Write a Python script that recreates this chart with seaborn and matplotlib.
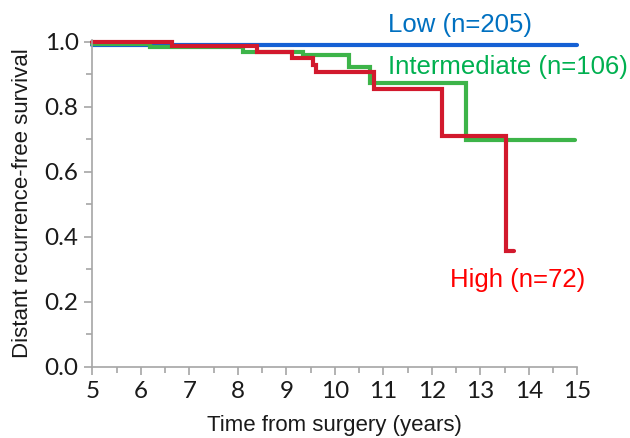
import numpy as np
import pandas as pd
import matplotlib
matplotlib.use("Agg")
import matplotlib.pyplot as plt
from matplotlib.ticker import MultipleLocator
import seaborn as sns

# ---- data ----
low_t = [5.0, 15.0]
low_s = [0.990, 0.990]

mid_t = [5.0, 6.19, 8.11, 9.34, 10.29, 10.72, 12.71, 14.96]
mid_s = [0.992, 0.983, 0.967, 0.959, 0.921, 0.873, 0.699, 0.699]

high_t = [5.0, 6.63, 8.39, 9.11, 9.55, 9.61, 10.80, 12.20, 13.54, 13.70]
high_s = [1.000, 0.987, 0.967, 0.949, 0.928, 0.906, 0.856, 0.710, 0.356, 0.356]

groups = ["Low", "Intermediate", "High"]
labels = ["Low (n=205)", "Intermediate (n=106)", "High (n=72)"]
x_ticks = [5, 6, 7, 8, 9, 10, 11, 12, 13, 14, 15]
y_ticks = [0.0, 0.2, 0.4, 0.6, 0.8, 1.0]

df = pd.concat([
    pd.DataFrame({"t": low_t, "s": low_s, "group": "Low"}),
    pd.DataFrame({"t": mid_t, "s": mid_s, "group": "Intermediate"}),
    pd.DataFrame({"t": high_t, "s": high_s, "group": "High"}),
], ignore_index=True)

sns.set_theme(style="white")
plt.rcParams["font.family"] = ["Liberation Sans", "DejaVu Sans"]

line_colors = {"Low": "#1560d4", "Intermediate": "#3db449", "High": "#d2192d"}
text_colors = {"Low": "#0070C0", "Intermediate": "#00B050", "High": "#FF0000"}

fig = plt.figure(figsize=(6.3, 4.38), dpi=100)
ax = fig.add_axes([0.1468, 0.1628, 0.7695, 0.7457])

sns.lineplot(data=df, x="t", y="s", hue="group", hue_order=groups,
             palette=line_colors, drawstyle="steps-post", linewidth=3.0,
             estimator=None, sort=False, legend=False, ax=ax)
for ln in ax.get_lines():
    ln.set_clip_on(False)
    ln.set_solid_joinstyle("miter")

ax.set_xlim(5, 15)
ax.set_ylim(0, 1.005)
ax.set_xticks(x_ticks)
ax.set_yticks(y_ticks)
ax.set_yticklabels([f"{v:.1f}" for v in y_ticks])
ax.xaxis.set_minor_locator(MultipleLocator(0.5))
ax.yaxis.set_minor_locator(MultipleLocator(0.1))

for side in ["top", "right"]:
    ax.spines[side].set_visible(False)
for side in ["left", "bottom"]:
    ax.spines[side].set_color("#a6a6a6")
    ax.spines[side].set_linewidth(1.2)

ax.tick_params(axis="both", which="major", direction="out", length=6,
               width=1.2, color="#a6a6a6", labelsize=17.5, labelcolor="#1a1a1a",
               left=True, bottom=True, pad=4)
ax.tick_params(axis="both", which="minor", direction="out", length=4,
               width=1.2, color="#a6a6a6", left=True, bottom=True)
for lab in ax.get_xticklabels() + ax.get_yticklabels():
    lab.set_family(["Lato", "DejaVu Sans"])

ax.set_xlabel("Time from surgery (years)", fontsize=16, color="#1a1a1a", labelpad=10)
ax.set_ylabel("Distant recurrence-free survival", fontsize=16, color="#1a1a1a", labelpad=8)

ax.text(11.09, 1.051, labels[0], color=text_colors["Low"], fontsize=18.5,
        va="center", ha="left", clip_on=False)
ax.text(11.09, 0.922, labels[1], color=text_colors["Intermediate"], fontsize=18.5,
        va="center", ha="left", clip_on=False)
ax.text(12.37, 0.267, labels[2], color=text_colors["High"], fontsize=18.5,
        va="center", ha="left", clip_on=False)

fig.savefig("out.png", dpi=100)
